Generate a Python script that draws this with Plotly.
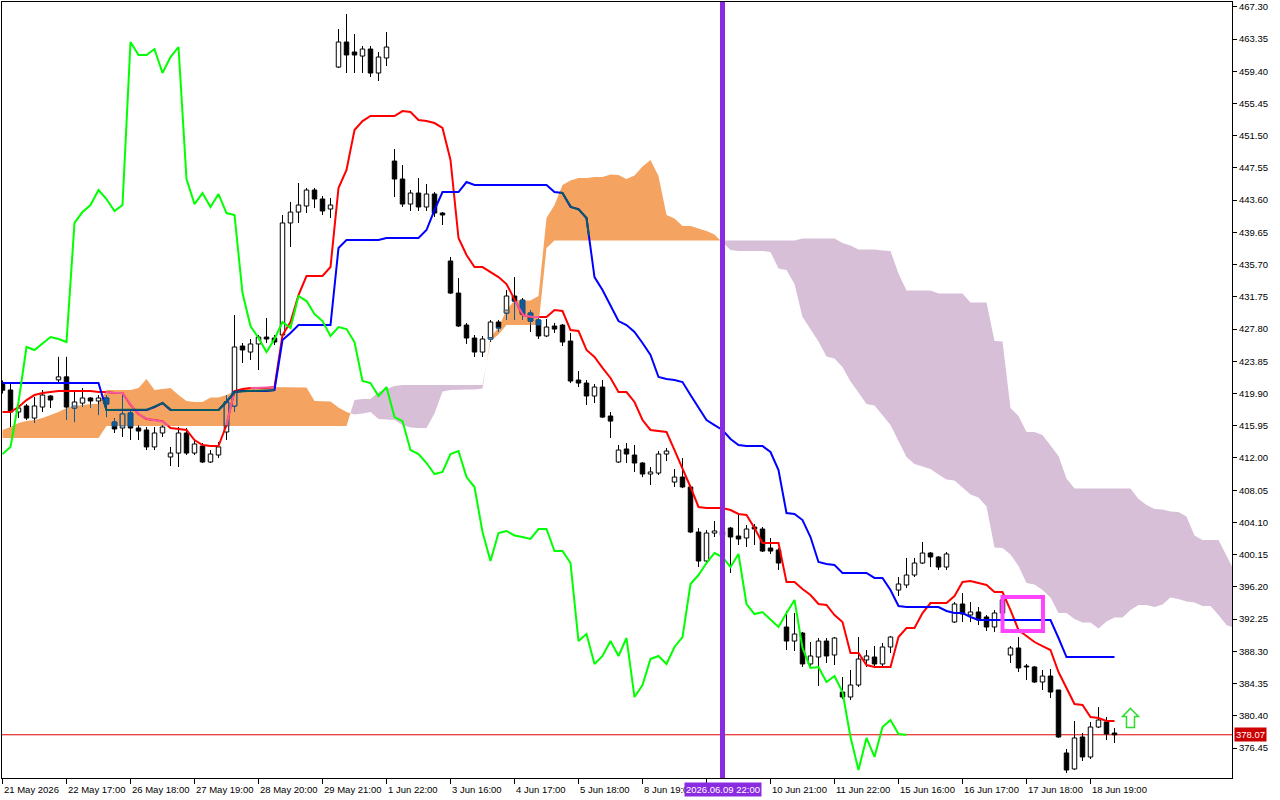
import numpy as np
import plotly.graph_objects as go

# ---------------- axis labels ----------------
y_ticks = [467.30, 463.35, 459.40, 455.45, 451.50, 447.55, 443.60, 439.65, 435.70, 431.75,
           427.80, 423.85, 419.90, 415.95, 412.00, 408.05, 404.10, 400.15, 396.20, 392.25,
           388.30, 384.35, 380.40, 376.45]
x_tick_bars = [0, 8, 16, 24, 32, 40, 48, 56, 64, 72, 80, 88, 96, 104, 112, 120, 128, 136]
# the label of bar 88 is hidden behind the cursor time label in the reference
x_tick_labels = ["21 May 2026", "22 May 17:00", "26 May 18:00", "27 May 19:00", "28 May 20:00",
                 "29 May 21:00", "1 Jun 22:00", "3 Jun 16:00", "4 Jun 17:00", "5 Jun 18:00",
                 "8 Jun 19:00", "", "10 Jun 21:00", "11 Jun 22:00", "15 Jun 16:00",
                 "16 Jun 17:00", "17 Jun 18:00", "18 Jun 19:00"]
cursor_bar = 90
cursor_label = "2026.06.09 22:00"
bid_price = 378.07
box_bars = (125.0, 130.06)
box_prices = (390.79, 394.96)
arrow_bar = 141
arrow_tip = 381.3

# ---------------- H1 candles (bar index 0 = 21 May 2026 16:00) ----------------
opens = [421.10, 420.33, 417.63, 418.37, 416.89, 418.24, 419.59, 421.57, 421.94, 418.12,
         418.73, 419.35, 418.98, 419.35, 416.40, 415.67, 417.51, 415.67, 415.43, 413.35,
         415.06, 412.12, 412.60, 415.06, 412.60, 413.46, 411.50, 412.36, 415.18, 418.37,
         425.72, 424.98, 425.97, 426.82, 426.70, 427.07, 440.80, 442.14, 442.88, 444.84,
         443.74, 442.51, 459.91, 462.98, 461.76, 461.26, 462.12, 459.18, 461.02, 448.39,
         446.19, 443.12, 444.47, 442.76, 444.35, 442.02, 436.14, 432.21, 428.29, 426.70,
         424.98, 426.58, 428.66, 429.76, 431.85, 431.36, 429.76, 428.91, 426.95, 428.17,
         428.29, 426.33, 421.55, 421.18, 419.59, 420.69, 417.14, 411.50, 413.10, 412.36,
         411.38, 410.03, 410.15, 412.48, 409.05, 409.66, 408.44, 402.92, 399.37, 402.80,
         403.00, 403.41, 402.43, 402.19, 403.54, 403.29, 400.96, 400.72, 391.28, 389.56,
         390.54, 386.75, 387.60, 389.56, 387.85, 383.31, 382.70, 384.17, 387.24, 387.60,
         386.75, 388.83, 395.81, 396.43, 397.65, 399.12, 400.35, 399.86, 398.63, 391.89,
         394.10, 392.75, 393.12, 392.51, 391.28, 393.00, 387.85, 388.71, 386.50, 386.38,
         384.54, 385.27, 383.56, 375.84, 373.88, 377.80, 375.35, 379.02, 379.64, 378.29]
highs = [421.50, 421.18, 418.49, 418.61, 419.47, 420.33, 419.71, 424.39, 424.39, 420.33,
         420.57, 419.47, 419.71, 419.71, 416.89, 419.71, 417.87, 416.04, 415.79, 415.79,
         416.04, 413.35, 415.79, 415.67, 414.20, 413.83, 412.97, 413.95, 419.71, 429.52,
         426.09, 426.58, 427.07, 429.15, 427.07, 441.78, 443.37, 445.70, 445.09, 445.09,
         444.10, 443.86, 464.57, 466.41, 463.96, 462.49, 462.49, 461.76, 464.20, 449.86,
         447.90, 444.84, 446.31, 445.57, 444.59, 442.14, 436.63, 434.05, 428.54, 427.07,
         426.95, 428.91, 428.91, 432.58, 434.17, 431.60, 430.13, 429.15, 429.03, 428.54,
         428.42, 427.31, 422.65, 421.55, 421.06, 421.55, 417.63, 413.59, 413.83, 413.59,
         411.50, 410.89, 412.85, 413.22, 410.64, 411.99, 408.68, 403.41, 403.17, 404.27,
         403.70, 403.54, 405.01, 403.78, 403.90, 403.54, 402.19, 400.96, 393.24, 392.99,
         390.67, 389.44, 389.93, 389.93, 390.05, 385.15, 386.01, 390.05, 388.46, 388.95,
         389.32, 390.18, 397.41, 399.74, 399.74, 401.70, 400.47, 399.98, 400.47, 394.34,
         395.44, 394.34, 393.73, 392.75, 393.36, 395.00, 388.95, 390.05, 386.75, 386.50,
         386.01, 386.13, 383.56, 376.33, 379.76, 378.29, 379.64, 381.47, 380.25, 378.90]
lows = [419.90, 415.79, 416.89, 416.65, 416.28, 417.63, 418.12, 421.18, 416.65, 416.40,
        418.24, 418.12, 417.26, 417.01, 415.06, 414.57, 414.20, 414.20, 412.97, 412.97,
        414.57, 411.01, 410.89, 412.36, 412.36, 411.38, 411.38, 412.00, 414.20, 417.63,
        423.64, 424.00, 422.78, 426.09, 425.84, 426.82, 437.85, 440.80, 442.02, 442.63,
        441.78, 441.41, 459.79, 459.18, 459.18, 459.18, 458.69, 458.20, 460.04, 443.98,
        442.76, 442.27, 442.27, 442.27, 441.53, 440.55, 432.09, 428.05, 425.97, 424.37,
        424.37, 426.21, 427.44, 428.91, 428.91, 428.91, 427.44, 426.58, 426.82, 427.31,
        425.72, 421.18, 420.69, 418.49, 418.73, 416.90, 414.45, 411.38, 411.38, 410.28,
        409.66, 408.68, 409.91, 411.62, 408.44, 408.30, 402.80, 398.63, 399.25, 402.31,
        401.50, 397.90, 401.33, 401.09, 401.33, 400.47, 400.23, 398.27, 388.46, 388.34,
        386.38, 386.50, 384.05, 386.87, 386.62, 382.46, 382.33, 383.93, 386.38, 386.38,
        386.38, 388.09, 395.08, 396.06, 397.41, 399.00, 398.63, 398.27, 398.27, 391.77,
        391.89, 391.89, 391.52, 390.79, 390.67, 392.00, 386.87, 385.76, 384.78, 384.42,
        383.56, 382.58, 377.68, 373.39, 373.75, 374.86, 375.10, 378.90, 377.43, 377.06]
closes = [420.30, 417.63, 418.12, 416.89, 418.37, 419.71, 419.10, 421.94, 418.24, 418.86,
          419.35, 418.98, 419.35, 418.61, 415.55, 417.38, 415.67, 415.30, 413.35, 415.06,
          415.79, 412.60, 415.06, 412.60, 413.71, 411.50, 412.48, 413.35, 418.86, 425.60,
          425.23, 425.97, 426.82, 426.58, 426.21, 440.80, 442.14, 443.00, 444.84, 443.74,
          442.27, 443.00, 462.98, 461.39, 461.39, 462.12, 459.18, 461.14, 462.37, 446.19,
          443.12, 444.47, 442.76, 444.35, 442.02, 441.78, 432.21, 428.17, 426.70, 424.98,
          426.58, 428.66, 427.93, 431.85, 431.23, 429.64, 428.78, 426.95, 428.05, 427.80,
          426.21, 421.43, 421.18, 419.59, 420.69, 417.01, 416.52, 412.97, 412.48, 411.38,
          410.03, 410.28, 412.48, 412.85, 409.66, 408.44, 402.92, 399.37, 402.80, 403.05,
          402.50, 402.31, 402.07, 403.29, 403.29, 400.59, 400.59, 399.12, 389.56, 390.42,
          386.75, 387.73, 389.56, 387.73, 389.93, 382.70, 384.17, 387.36, 387.73, 386.75,
          388.83, 390.05, 396.55, 397.65, 399.12, 400.35, 399.86, 398.63, 400.23, 394.10,
          392.87, 393.12, 392.14, 391.28, 393.00, 394.60, 388.71, 386.26, 386.38, 384.54,
          385.27, 383.31, 377.80, 373.75, 377.68, 375.35, 379.02, 379.88, 378.17, 378.07]

# ---------------- Ichimoku lines ----------------
tenkan = [417.63, 417.63, 418.24, 419.10, 419.71, 419.96, 420.08, 420.20, 420.20, 420.20,
          420.20, 420.20, 420.08, 420.08, 419.96, 419.96, 418.49, 417.38, 416.77, 416.65,
          416.52, 415.67, 415.55, 415.43, 414.20, 413.59, 413.46, 413.46, 416.03, 420.20,
          420.45, 420.57, 420.57, 420.57, 420.69, 427.07, 428.66, 431.97, 434.30, 434.30,
          434.30, 435.40, 445.09, 447.29, 452.19, 453.29, 453.91, 453.91, 453.91, 453.91,
          454.52, 454.40, 453.42, 453.29, 453.05, 452.44, 448.52, 438.96, 436.88, 435.40,
          435.40, 434.79, 434.17, 433.32, 431.36, 429.52, 429.27, 429.27, 429.27, 430.13,
          430.01, 427.68, 427.56, 425.23, 424.37, 423.03, 421.80, 420.08, 420.08, 418.86,
          416.65, 415.43, 415.30, 415.18, 412.97, 410.77, 408.44, 405.99, 405.86, 405.86,
          405.86, 405.62, 405.13, 405.01, 403.41, 401.58, 401.58, 401.58, 396.80, 396.80,
          395.94, 395.20, 394.10, 393.98, 392.75, 391.89, 388.09, 388.09, 386.62, 386.38,
          386.38, 386.38, 390.05, 391.15, 391.15, 392.99, 394.22, 394.22, 394.22, 395.08,
          396.80, 396.92, 396.67, 396.43, 395.57, 395.57, 393.36, 390.91, 390.18, 389.44,
          388.95, 388.46, 385.76, 383.80, 381.84, 381.72, 380.25, 380.13, 379.76, 379.76]
kijun = [421.18, 421.18, 421.18, 421.18, 421.18, 421.18, 421.18, 421.18, 421.18, 421.18,
         421.18, 421.18, 421.18, 417.87, 417.87, 417.87, 417.87, 417.87, 417.87, 418.24,
         418.73, 417.87, 417.87, 417.87, 417.87, 417.87, 417.87, 417.87, 418.86, 420.08,
         420.20, 420.20, 420.20, 420.20, 420.33, 426.45, 427.31, 428.29, 428.29, 428.29,
         428.29, 428.29, 437.73, 438.71, 438.71, 438.71, 438.71, 438.71, 438.96, 438.96,
         438.96, 438.96, 438.96, 439.94, 442.39, 444.59, 444.59, 444.59, 445.82, 445.45,
         445.45, 445.45, 445.45, 445.45, 445.45, 445.45, 445.45, 445.45, 445.45, 444.59,
         444.47, 442.76, 442.51, 441.41, 434.17, 432.58, 430.75, 428.78, 428.29, 427.44,
         426.09, 424.62, 421.92, 421.67, 421.55, 421.31, 419.71, 418.24, 416.65, 416.03,
         415.43, 414.32, 413.59, 413.46, 413.46, 413.46, 412.73, 410.52, 405.25, 405.13,
         404.39, 402.31, 399.25, 399.00, 398.88, 397.90, 397.90, 397.90, 397.90, 397.29,
         397.29, 395.81, 393.85, 393.73, 393.73, 393.73, 393.73, 393.73, 393.24, 392.99,
         392.99, 392.51, 392.14, 392.14, 392.14, 392.14, 392.14, 392.14, 392.14, 392.14,
         392.14, 392.14, 389.93, 387.60, 387.60, 387.60, 387.60, 387.60, 387.60, 387.60]
# Senkou spans on the first bars (they depend on history before the window)
span_a_early = [415.43, 415.79, 416.28, 416.52, 416.65, 416.89, 417.26, 417.63, 418.12, 418.37,
                418.49, 418.61, 418.61, 420.33, 420.33, 420.33, 420.33, 420.57, 421.67, 420.33,
                420.45, 420.57, 419.71, 418.98, 418.86, 418.86]
span_b_early = [414.45, 414.45, 414.45, 414.45, 414.45, 414.45, 414.45, 414.45, 414.45, 414.45,
                414.45, 414.45, 414.45, 415.92, 415.92, 415.92, 415.92, 415.92, 415.92, 415.92,
                415.92, 415.92, 415.92, 415.92, 415.92, 415.92, 415.92, 415.92, 415.92, 415.92,
                415.92, 415.92, 415.92, 415.92, 415.92, 415.92, 415.92, 415.92, 415.92, 415.92,
                415.92, 415.92, 415.92, 415.92, 419.10, 419.22, 419.22, 420.08, 420.45, 420.82,
                420.94, 420.94, 420.94, 420.94, 420.94, 420.94, 420.94, 420.94, 420.94, 420.94,
                420.94, 426.30, 427.13, 428.30, 428.30, 428.30, 428.30, 428.30, 437.73, 438.65,
                438.65, 438.65, 438.65, 438.65, 438.65, 438.65, 438.65]

# ---------------- Ichimoku derived series (standard definitions) ----------------
SHIFT = 26
n = len(closes)
bars = np.arange(n)
o = np.array(opens); h = np.array(highs); l = np.array(lows); c = np.array(closes)
n_cloud = n + SHIFT
cx = np.arange(n_cloud, dtype=float)
span_a = np.empty(n_cloud)
span_a[:len(span_a_early)] = span_a_early
for b in range(len(span_a_early), n_cloud):
    span_a[b] = (tenkan[b - SHIFT] + kijun[b - SHIFT]) / 2
span_b = np.empty(n_cloud)
span_b[:len(span_b_early)] = span_b_early
for b in range(len(span_b_early), n_cloud):
    lo_i, hi_i = b - SHIFT - 51, b - SHIFT + 1
    span_b[b] = (h[lo_i:hi_i].max() + l[lo_i:hi_i].min()) / 2
chikou_x = bars[:n - SHIFT]
chikou_y = c[SHIFT:]

ORANGE = "#F4A460"
THISTLE = "#D8BFD8"
X_BLACK = "#0B5B9F"   # black drawn through the sandy-brown fill
X_BLUE = "#0B5B60"
X_RED = "#F45B9F"

fig = go.Figure()

# ---------- cloud ----------
def cloud_segments(xs, a, b):
    segs = []
    cur = None
    px, pa, pb = [], [], []
    for i in range(len(xs)):
        s = a[i] >= b[i]
        if cur is not None and s != cur:
            d0 = a[i - 1] - b[i - 1]
            d1 = a[i] - b[i]
            t = d0 / (d0 - d1)
            xc = xs[i - 1] + t * (xs[i] - xs[i - 1])
            yc = a[i - 1] + t * (a[i] - a[i - 1])
            px.append(xc); pa.append(yc); pb.append(yc)
            segs.append((cur, px, pa, pb))
            px, pa, pb = [xc], [yc], [yc]
        px.append(xs[i]); pa.append(a[i]); pb.append(b[i])
        cur = s
    segs.append((cur, px, pa, pb))
    return segs

for bull, px, pa, pb in cloud_segments(cx, span_a, span_b):
    fig.add_trace(go.Scatter(x=list(px) + list(px)[::-1], y=list(pa) + list(pb)[::-1],
                             fill="toself", fillcolor=ORANGE if bull else THISTLE,
                             line=dict(width=0), mode="lines", hoverinfo="skip"))

def cloud_at(x):
    return np.interp(x, cx, span_a), np.interp(x, cx, span_b)

# ---------- candles ----------
HW = 0.28
wx, wy = [], []
for i in bars:
    wx += [i, i, None]; wy += [l[i], h[i], None]
fig.add_trace(go.Scatter(x=wx, y=wy, mode="lines", line=dict(color="black", width=1), hoverinfo="skip"))

def body_path(idx, lo_arr, hi_arr):
    xs, ys = [], []
    for i in idx:
        xs += [i - HW, i + HW, i + HW, i - HW, i - HW, None]
        ys += [lo_arr[i], lo_arr[i], hi_arr[i], hi_arr[i], lo_arr[i], None]
    return xs, ys

body_lo = np.minimum(o, c); body_hi = np.maximum(o, c)
up = c >= o
for mask, fillc in ((up, "white"), (~up, "black")):
    xs, ys = body_path(bars[mask], body_lo, body_hi)
    fig.add_trace(go.Scatter(x=xs, y=ys, mode="lines", fill="toself", fillcolor=fillc,
                             line=dict(color="black", width=1), hoverinfo="skip"))

# parts of candles lying inside the sandy-brown cloud
ow_x, ow_y = [], []
ob = {True: ([], []), False: ([], [])}
for i in bars:
    a, b = span_a[i], span_b[i]
    if a <= b:
        continue
    lo, hi = max(l[i], b), min(h[i], a)
    if hi > lo:
        ow_x += [i, i, None]; ow_y += [lo, hi, None]
    blo, bhi = max(body_lo[i], b), min(body_hi[i], a)
    if bhi >= blo and body_hi[i] >= b and body_lo[i] <= a:
        xs, ys = ob[bool(up[i])]
        xs += [i - HW, i + HW, i + HW, i - HW, i - HW, None]
        ys += [blo, blo, bhi, bhi, blo, None]
fig.add_trace(go.Scatter(x=ow_x, y=ow_y, mode="lines", line=dict(color=X_BLACK, width=1), hoverinfo="skip"))
for isup, fillc in ((True, ORANGE), (False, X_BLACK)):
    xs, ys = ob[isup]
    if xs:
        fig.add_trace(go.Scatter(x=xs, y=ys, mode="lines", fill="toself", fillcolor=fillc,
                                 line=dict(color=X_BLACK, width=1), hoverinfo="skip"))

# ---------- indicator lines ----------
def orange_parts(xv, yv, steps=10):
    ox, oy = [], []
    prev = False
    m = len(xv)
    for i in range(m - 1):
        ks = range(steps + 1) if i == m - 2 else range(steps)
        for k in ks:
            t = k / steps
            x = xv[i] + t * (xv[i + 1] - xv[i])
            y = yv[i] + t * (yv[i + 1] - yv[i])
            a, b = cloud_at(x)
            inside = a > b and b <= y <= a
            if inside:
                ox.append(x); oy.append(y)
            elif prev:
                ox.append(None); oy.append(None)
            prev = inside
    return ox, oy

for series, col, xcol in ((tenkan, "#FF0000", X_RED), (kijun, "#0000FF", X_BLUE)):
    fig.add_trace(go.Scatter(x=bars, y=series, mode="lines", line=dict(color=col, width=2), hoverinfo="skip"))
    ox, oy = orange_parts(list(bars.astype(float)), list(series))
    fig.add_trace(go.Scatter(x=ox, y=oy, mode="lines", line=dict(color=xcol, width=2), hoverinfo="skip"))

fig.add_trace(go.Scatter(x=chikou_x, y=chikou_y, mode="lines", line=dict(color="#00FF00", width=2), hoverinfo="skip"))

# ---------- objects ----------
shapes = [
    dict(type="line", xref="paper", x0=0, x1=1, yref="y", y0=bid_price, y1=bid_price,
         line=dict(color="#E00000", width=1), layer="below"),
    dict(type="line", xref="x", x0=cursor_bar, x1=cursor_bar, yref="paper", y0=0, y1=1,
         line=dict(color="#8A2BE2", width=5), layer="above"),
    dict(type="rect", xref="x", yref="y", x0=box_bars[0], x1=box_bars[1], y0=box_prices[0], y1=box_prices[1],
         line=dict(color="#FF44FF", width=4), layer="above"),
]
hd = 8 / 8.159
sh = 19 / 8.159
ax_ = arrow_bar
path = (f"M {ax_},{arrow_tip} L {ax_+1},{arrow_tip-hd} L {ax_+0.5},{arrow_tip-hd} "
        f"L {ax_+0.5},{arrow_tip-sh} L {ax_-0.5},{arrow_tip-sh} L {ax_-0.5},{arrow_tip-hd} "
        f"L {ax_-1},{arrow_tip-hd} Z")
shapes.append(dict(type="path", xref="x", yref="y", path=path, line=dict(color="#2EDB2E", width=1.5),
                   fillcolor="rgba(255,255,255,0)", layer="above"))

FONT = "Liberation Sans"
annotations = []
for b, lab in zip(x_tick_bars, x_tick_labels):
    if not lab:
        continue
    annotations.append(dict(x=b, y=0, xref="x", yref="paper", text=lab, showarrow=False,
                            xanchor="left", yanchor="middle", yshift=-11, xshift=-1,
                            font=dict(family=FONT, size=9.5, color="black")))
annotations.append(dict(x=cursor_bar, y=0, xref="x", yref="paper", text=cursor_label, showarrow=False,
                        xanchor="center", yanchor="middle", yshift=-11, bgcolor="#8A2BE2", borderpad=1,
                        font=dict(family=FONT, size=9.5, color="white")))
annotations.append(dict(x=1, y=bid_price, xref="paper", yref="y", text=f"{bid_price:.2f}", showarrow=False,
                        xanchor="left", yanchor="middle", xshift=2, bgcolor="#CC0000", borderpad=1,
                        font=dict(family=FONT, size=9.5, color="white")))

fig.update_layout(
    width=1280, height=800,
    margin=dict(l=2, r=48, t=2, b=22),
    paper_bgcolor="white", plot_bgcolor="white",
    showlegend=False, hovermode=False,
    font=dict(family=FONT, size=9.5, color="black"),
    shapes=shapes, annotations=annotations,
    xaxis=dict(range=[-0.0625, 153.6875], tickvals=x_tick_bars, showticklabels=False,
               ticks="outside", ticklen=5, tickcolor="black", showline=True, mirror=True,
               linecolor="black", linewidth=1, showgrid=False, zeroline=False),
    yaxis=dict(range=[372.773, 467.885], side="right", tickvals=y_ticks,
               ticktext=[f"{v:.2f}" for v in y_ticks], ticks="outside", ticklen=4, tickcolor="black",
               tickfont=dict(family=FONT, size=9.5, color="black"),
               showline=True, mirror=True, linecolor="black", linewidth=1,
               showgrid=False, zeroline=False),
)

fig.write_html("out.html", config={"displayModeBar": False},
               post_script="document.body.style.margin='0';document.body.style.overflow='hidden';")
